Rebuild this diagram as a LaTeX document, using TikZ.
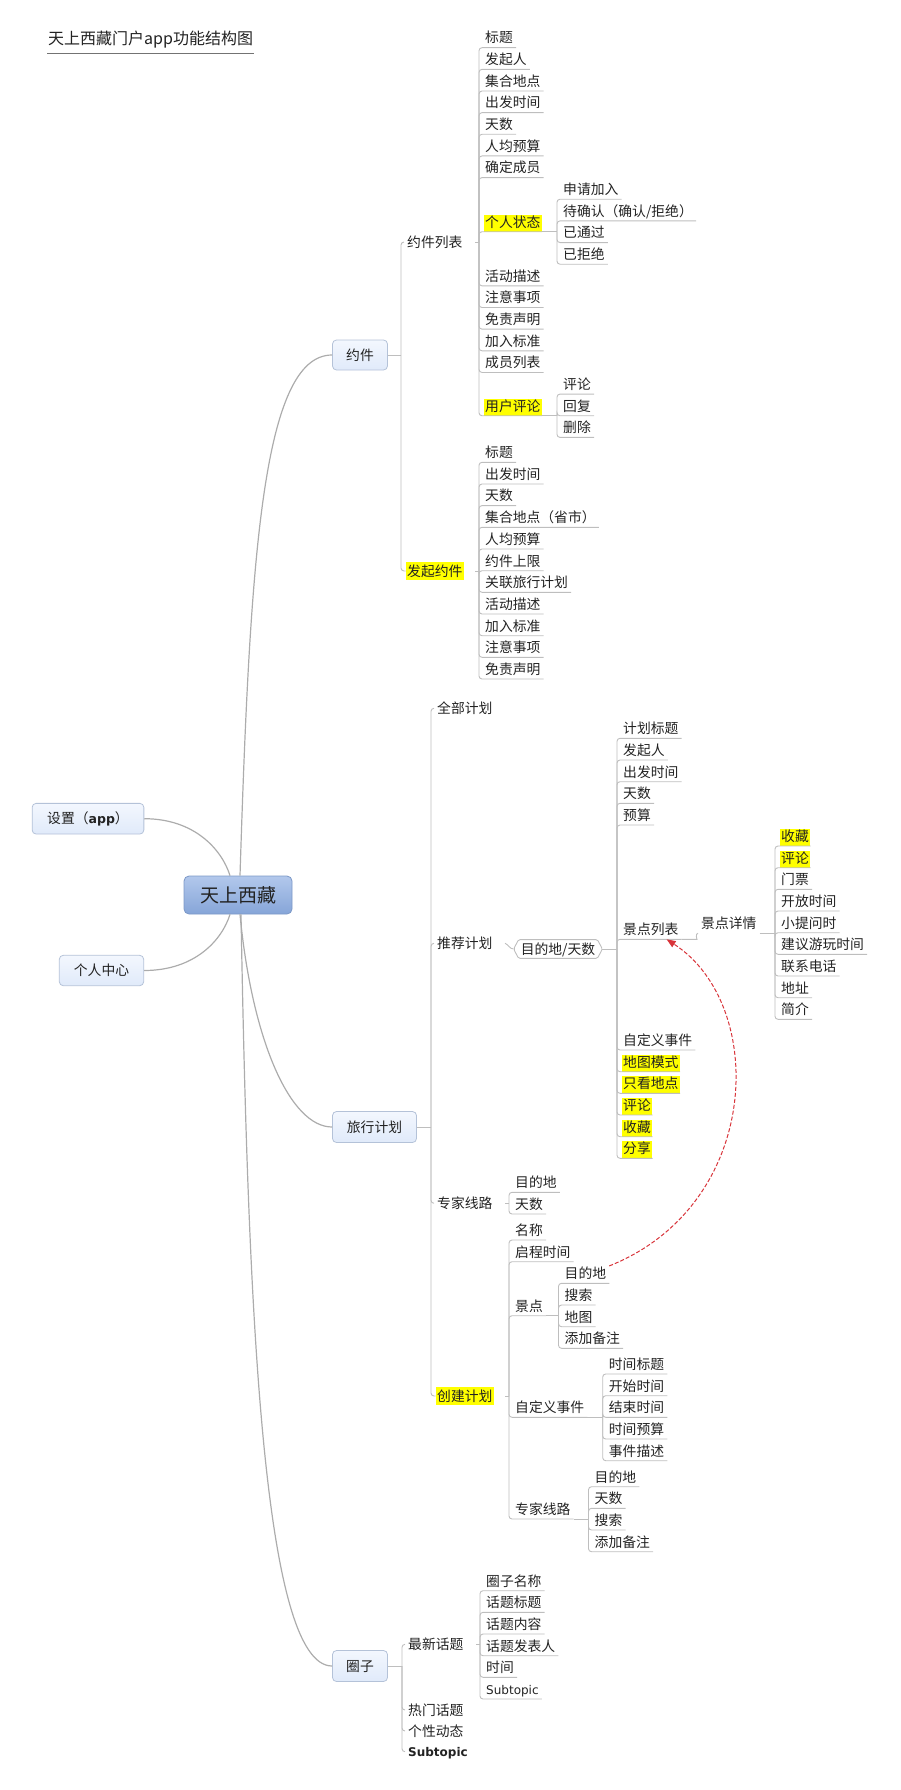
\documentclass[tikz,border=0pt]{standalone}
\usepackage{fontspec}
\setmainfont{Noto Sans CJK SC}
\newfontfamily\vfont{DejaVu Sans}
\usetikzlibrary{arrows.meta}
\definecolor{linegray}{RGB}{190,190,190}
\definecolor{maingray}{RGB}{172,172,172}
\definecolor{hlyellow}{RGB}{255,255,0}
\definecolor{boxtop}{RGB}{243,247,254}
\definecolor{boxbot}{RGB}{224,234,250}
\definecolor{boxline}{RGB}{180,194,216}
\definecolor{roottop}{RGB}{178,200,236}
\definecolor{rootbot}{RGB}{134,165,216}
\definecolor{rootline}{RGB}{124,152,199}
\definecolor{linkred}{RGB}{216,52,58}
\definecolor{txt}{RGB}{34,34,34}
\tikzset{
  leaf/.style={anchor=south west, inner xsep=3pt, inner ysep=1.5pt, text height=11pt, text depth=3pt, font=\fontsize{13.8}{16}\selectfont, text=txt},
  mid/.style={anchor=west, inner xsep=3pt, inner ysep=1.5pt, text height=12.4pt, text depth=2pt, font=\fontsize{13.8}{16}\selectfont, text=txt},
  hl/.style={fill=hlyellow, inner xsep=1.5pt, xshift=1.5pt},
  topic/.style={draw=boxline, top color=boxtop, bottom color=boxbot, rounded corners=4pt, line width=0.8pt, text height=12.4pt, text depth=2pt, inner sep=0pt, font=\fontsize{13.8}{16}\selectfont, text=txt},
  br/.style={draw=linegray, line width=0.9pt, rounded corners=3pt},
  main/.style={draw=maingray, line width=1.2pt},
  link/.style={draw=linkred, line width=1pt, dash pattern=on 4pt off 2pt, -{Triangle[length=9pt,width=7pt]}}
}
\begin{document}
\begin{tikzpicture}[x=1pt,y=-1pt]
\useasboundingbox (0,0) rectangle (900,1790);

% title
\node[anchor=south west, inner xsep=1pt, inner ysep=5.5pt, text height=12pt, text depth=3.5pt, font=\fontsize{16}{18}\selectfont, text=txt] (title) at (47,53.3) {天上西藏门户app功能结构图};
\draw[draw=black!55, line width=1.5pt] (title.south west) -- (title.south east);

% central topic and left topics
\node[draw=rootline, top color=roottop, bottom color=rootbot, rounded corners=5pt, line width=0.8pt, minimum width=108pt, minimum height=38pt, inner sep=0pt, font=\fontsize{19}{22}\selectfont, text=txt] (root) at (238,895) {天上西藏};
\node[topic, minimum width=111.7pt, minimum height=30.7pt] (sz) at (88,818.7) {设置（{\vfont\bfseries\fontsize{12.5}{14}\selectfont app}）};
\node[topic, minimum width=84.4pt, minimum height=30.4pt] (gz) at (101.5,970.5) {个人中心};

% 约件
\node[topic, minimum width=55pt, minimum height=30pt] (yj) at (360,355) {约件};
\coordinate (j0) at (401,355);
\node[mid] (yl) at (404,242) {约件列表};
\node[mid,hl] (fq) at (404,571) {发起约件};

\coordinate (j1) at (479,242);
\node[leaf] (a1) at (482,47.7) {标题};
\node[leaf] (a2) at (482,69.35) {发起人};
\node[leaf] (a3) at (482,91) {集合地点};
\node[leaf] (a4) at (482,112.65) {出发时间};
\node[leaf] (a5) at (482,134.3) {天数};
\node[leaf] (a6) at (482,155.95) {人均预算};
\node[leaf] (a7) at (482,177.6) {确定成员};
\node[leaf,hl] (a8) at (482,231.7) {个人状态};
\node[leaf] (a9) at (482,285.85) {活动描述};
\node[leaf] (a10) at (482,307.5) {注意事项};
\node[leaf] (a11) at (482,329.15) {免责声明};
\node[leaf] (a12) at (482,350.8) {加入标准};
\node[leaf] (a13) at (482,372.45) {成员列表};
\node[leaf,hl] (a14) at (482,415.75) {用户评论};

\coordinate (j2) at (557,231.7);
\node[leaf] (b1) at (560,199.25) {申请加入};
\node[leaf] (b2) at (560,220.9) {待确认（确认/拒绝）};
\node[leaf] (b3) at (560,242.55) {已通过};
\node[leaf] (b4) at (560,264.2) {已拒绝};

\coordinate (j3) at (557,415.75);
\node[leaf] (c1) at (560,394.1) {评论};
\node[leaf] (c2) at (560,415.75) {回复};
\node[leaf] (c3) at (560,437.4) {删除};

\coordinate (j4) at (479,571);
\node[leaf] (d1) at (482,462.3) {标题};
\node[leaf] (d2) at (482,484) {出发时间};
\node[leaf] (d3) at (482,505.6) {天数};
\node[leaf] (d4) at (482,527.3) {集合地点（省市）};
\node[leaf] (d5) at (482,549) {人均预算};
\node[leaf] (d6) at (482,570.7) {约件上限};
\node[leaf] (d7) at (482,592.3) {关联旅行计划};
\node[leaf] (d8) at (482,614) {活动描述};
\node[leaf] (d9) at (482,635.7) {加入标准};
\node[leaf] (d10) at (482,657.3) {注意事项};
\node[leaf] (d11) at (482,679) {免责声明};

% 旅行计划
\node[topic, minimum width=84pt, minimum height=31pt] (lx) at (374.5,1127) {旅行计划};
\coordinate (j5) at (431,1127);
\node[mid] (qb) at (434,708.3) {全部计划};
\node[mid] (tj) at (434,943.3) {推荐计划};
\node[mid] (zj) at (434,1203.3) {专家线路};
\node[mid,hl] (cj) at (434,1396) {创建计划};

\node[inner xsep=7pt, inner ysep=2pt, text height=12.4pt, text depth=2pt, font=\fontsize{13.8}{16}\selectfont, text=txt] (md) at (558,949) {目的地/天数};
\coordinate (t0) at (505,943.3);
\coordinate (j6) at (617,949);
\node[leaf] (e1) at (620,738.3) {计划标题};
\node[leaf] (e2) at (620,760) {发起人};
\node[leaf] (e3) at (620,781.7) {出发时间};
\node[leaf] (e4) at (620,803.3) {天数};
\node[leaf] (e5) at (620,825) {预算};
\node[leaf] (e6) at (620,939.3) {景点列表};
\node[leaf] (e7) at (620,1050) {自定义事件};
\node[leaf,hl] (e8) at (620,1071.7) {地图模式};
\node[leaf,hl] (e9) at (620,1093.3) {只看地点};
\node[leaf,hl] (e10) at (620,1115) {评论};
\node[leaf,hl] (e11) at (620,1136.7) {收藏};
\node[leaf,hl] (e12) at (620,1158.3) {分享};

\coordinate (k1) at (694,939.3);
\node[leaf] (f0) at (698,933.3) {景点详情};
\coordinate (j7) at (775,933.3);
\node[leaf,hl] (f1) at (778,846) {收藏};
\node[leaf,hl] (f2) at (778,867.7) {评论};
\node[leaf] (f3) at (778,889.3) {门票};
\node[leaf] (f4) at (778,911) {开放时间};
\node[leaf] (f5) at (778,932.7) {小提问时};
\node[leaf] (f6) at (778,954.3) {建议游玩时间};
\node[leaf] (f7) at (778,976) {联系电话};
\node[leaf] (f8) at (778,997.7) {地址};
\node[leaf] (f9) at (778,1019.3) {简介};

\coordinate (j8) at (509,1203.3);
\node[leaf] (g1) at (512,1192.3) {目的地};
\node[leaf] (g2) at (512,1214) {天数};

\coordinate (j9) at (509,1396);
\node[leaf] (h1) at (512,1240) {名称};
\node[leaf] (h2) at (512,1261.7) {启程时间};
\node[leaf] (h3) at (512,1315.7) {景点};
\node[leaf] (h4) at (512,1417.3) {自定义事件};
\node[leaf] (h5) at (512,1519) {专家线路};

\coordinate (j10) at (558.5,1315.7);
\node[leaf] (i1) at (561.5,1283.3) {目的地};
\node[leaf] (i2) at (561.5,1305) {搜索};
\node[leaf] (i3) at (561.5,1326.7) {地图};
\node[leaf] (i4) at (561.5,1348.3) {添加备注};

\coordinate (j11) at (602.7,1417.3);
\node[leaf] (m1) at (605.7,1374) {时间标题};
\node[leaf] (m2) at (605.7,1395.7) {开始时间};
\node[leaf] (m3) at (605.7,1417.3) {结束时间};
\node[leaf] (m4) at (605.7,1439) {时间预算};
\node[leaf] (m5) at (605.7,1460.7) {事件描述};

\coordinate (j12) at (588.5,1519);
\node[leaf] (n1) at (591.5,1486.7) {目的地};
\node[leaf] (n2) at (591.5,1508.3) {天数};
\node[leaf] (n3) at (591.5,1530) {搜索};
\node[leaf] (n4) at (591.5,1551.7) {添加备注};

% 圈子
\node[topic, minimum width=55pt, minimum height=31pt] (qz) at (360,1666) {圈子};
\coordinate (j13) at (402,1666);
\node[mid] (p1) at (405,1644.3) {最新话题};
\node[mid] (p2) at (405,1710) {热门话题};
\node[mid] (p3) at (405,1731) {个性动态};
\node[mid] (p4) at (405,1751.7) {\vfont\bfseries\fontsize{12}{14}\selectfont Subtopic};

\coordinate (j14) at (480,1644.3);
\node[leaf] (q1) at (483,1590.7) {圈子名称};
\node[leaf] (q2) at (483,1612.3) {话题标题};
\node[leaf] (q3) at (483,1634) {话题内容};
\node[leaf] (q4) at (483,1655.7) {话题发表人};
\node[leaf] (q5) at (483,1677.3) {时间};
\node[leaf] (q6) at (483,1699) {\vfont\fontsize{12}{14}\selectfont Subtopic};

% main branches
\draw[main] ([xshift=2pt]root.north) .. controls (250,560) and (262,355) .. (yj.west);
\draw[main] ([xshift=2pt]root.south) .. controls (252,1040) and (290,1127) .. (lx.west);
\draw[main] ([xshift=3pt]root.south) .. controls (248,1300) and (262,1666) .. (qz.west);
\draw[main] (sz.east) .. controls (195,818.7) and (222,850) .. ([xshift=-8pt]root.north);
\draw[main] (gz.east) .. controls (195,970.5) and (222,940) .. ([xshift=-8pt]root.south);

% brackets
\draw[br] (yj.east) -- (j0);
\draw[br] (j0) |- (yl.west);
\draw[br] (j0) |- (fq.west);
\draw[br] (j1) -- ++(-4,0);
\foreach \k in {1,...,14} \draw[br] (j1) |- (a\k.south east);
\draw[br] (a8.south east) -- (j2);
\foreach \k in {1,...,4} \draw[br] (j2) |- (b\k.south east);
\draw[br] (a14.south east) -- (j3);
\foreach \k in {1,...,3} \draw[br] (j3) |- (c\k.south east);
\draw[br] (j4) -- ++(-4,0);
\foreach \k in {1,...,11} \draw[br] (j4) |- (d\k.south east);

\draw[br] (lx.east) -- (j5);
\draw[br] (j5) |- (qb.west);
\draw[br] (j5) |- (tj.west);
\draw[br] (j5) |- (zj.west);
\draw[br] (j5) |- (cj.west);
\draw[br, rounded corners=1.5pt] (md.west) -- ([xshift=5pt]md.north west) -- ([xshift=-5pt]md.north east) -- (md.east) -- ([xshift=-5pt]md.south east) -- ([xshift=5pt]md.south west) -- cycle;
\draw[br] (t0) to[out=-20,in=180] (md.west);
\draw[br] (md.east) -- (j6);
\foreach \k in {1,...,12} \draw[br] (j6) |- (e\k.south east);
\draw[br] (e6.south east) -- (k1) to[out=0,in=180] (f0.south west);
\draw[br] (f0.south east) -- (j7);
\foreach \k in {1,...,9} \draw[br] (j7) |- (f\k.south east);
\draw[br] (j8) -- ++(-4,0);
\foreach \k in {1,2} \draw[br] (j8) |- (g\k.south east);
\draw[br] (j9) -- ++(-4,0);
\foreach \k in {1,...,5} \draw[br] (j9) |- (h\k.south east);
\draw[br] (h3.south east) -- (j10);
\foreach \k in {1,...,4} \draw[br] (j10) |- (i\k.south east);
\draw[br] (h4.south east) -- (j11);
\foreach \k in {1,...,5} \draw[br] (j11) |- (m\k.south east);
\draw[br] (h5.south east) -- (j12);
\foreach \k in {1,...,4} \draw[br] (j12) |- (n\k.south east);

\draw[br] (qz.east) -- (j13);
\foreach \k in {1,...,4} \draw[br] (j13) |- (p\k.west);
\draw[br] (j14) -- ++(-4,0);
\foreach \k in {1,...,6} \draw[br] (j14) |- (q\k.south east);

% relation
\draw[link] (i1.north east) .. controls (762,1205) and (768,1005) .. ([xshift=-15pt]e6.south east);
\end{tikzpicture}
\end{document}
